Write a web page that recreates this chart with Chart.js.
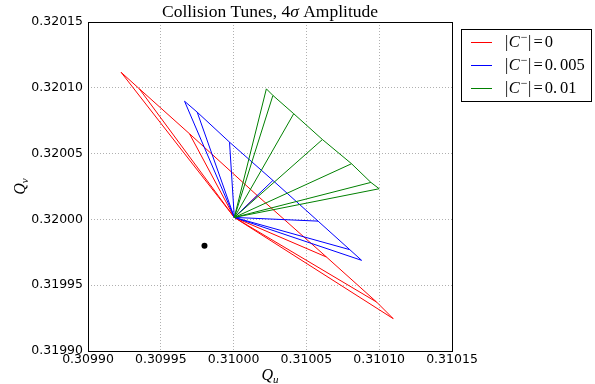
<!DOCTYPE html>
<html>
<head>
<meta charset="utf-8">
<script src="https://cdn.jsdelivr.net/npm/chart.js@4.4.1/dist/chart.umd.min.js"></script>
<style>
html, body { margin: 0; padding: 0; background: #fff; }
#wrap { width: 595px; height: 384px; position: relative; }
</style>
</head>
<body>
<div id="wrap"><canvas id="tuneChart"></canvas></div>
<script>
// tune at zero amplitude (all rays start here)
const center = [0.3100005, 0.3200015];

// tunes at 4 sigma, one point per angle 0,15,30,45,60,75,90 deg
const redQu = [0.3101096, 0.3100982, 0.3100638, 0.3100162, 0.3099697, 0.3099352, 0.3099227];
const redQv = [0.3199246, 0.3199372, 0.3199714, 0.3200182, 0.3200651, 0.3200993, 0.3201118];

const blueQu = [0.3100879, 0.3100798, 0.3100580, 0.3100270, 0.3099972, 0.3099750, 0.3099663];
const blueQv = [0.3199689, 0.3199770, 0.3199987, 0.3200296, 0.3200587, 0.3200815, 0.3200898];

const greenQu = [0.3101000, 0.3100943, 0.3100810, 0.3100610, 0.3100413, 0.3100270, 0.3100225];
const greenQv = [0.3200233, 0.3200281, 0.3200423, 0.3200607, 0.3200803, 0.3200942, 0.3200992];

const dotQu = [0.30998];
const dotQv = [0.31998];

const seriesLabels = ['0', '0.005', '0.01'];
const seriesColors = ['#ff0000', '#0000ff', '#008000'];

const xTicks = [0.30990, 0.30995, 0.31000, 0.31005, 0.31010, 0.31015];
const yTicks = [0.31990, 0.31995, 0.32000, 0.32005, 0.32010, 0.32015];

// edge through the 4 sigma points + a ray from the centre to each one
function footprint(qu, qv) {
    const pts = [];
    for (let i = 0; i < qu.length; i++) pts.push({x: qu[i], y: qv[i]});
    for (let i = 0; i < qu.length; i++) {
        pts.push({x: null, y: null});
        pts.push({x: center[0], y: center[1]});
        pts.push({x: qu[i], y: qv[i]});
    }
    return pts;
}

function lineSet(label, color, qu, qv, order) {
    return {
        label: label,
        data: footprint(qu, qv),
        showLine: true,
        spanGaps: false,
        borderColor: color,
        backgroundColor: color,
        borderWidth: 1,
        pointRadius: 0,
        pointHoverRadius: 0,
        order: order
    };
}

const SERIF = '"Liberation Serif", "DejaVu Serif", serif';

// draw "|C-| = val" with the C in italics and the minus raised
function drawCMinus(ctx, x, y, val) {
    const fs = 16.5;
    ctx.textBaseline = 'middle';
    ctx.textAlign = 'left';
    ctx.fillStyle = '#000';
    ctx.font = fs + 'px ' + SERIF;
    ctx.fillText('|', x, y); x += ctx.measureText('|').width + 0.5;
    ctx.font = 'italic ' + fs + 'px ' + SERIF;
    ctx.fillText('C', x, y); x += ctx.measureText('C').width + 1;
    ctx.font = '12px ' + SERIF;
    ctx.fillText('\u2212', x, y - 5); x += ctx.measureText('\u2212').width + 0.5;
    ctx.font = fs + 'px ' + SERIF;
    ctx.fillText('|', x, y); x += ctx.measureText('|').width + 2;
    ctx.fillText('=', x, y); x += ctx.measureText('=').width + 2;
    const dot = val.indexOf('.');
    if (dot < 0) {
        ctx.fillText(val, x, y);
    } else {
        const head = val.slice(0, dot + 1);
        ctx.fillText(head, x, y); x += ctx.measureText(head).width + 3;
        ctx.fillText(val.slice(dot + 1), x, y);
    }
}

function drawQ(ctx, x, y, sub) {
    ctx.textBaseline = 'alphabetic';
    ctx.textAlign = 'left';
    ctx.fillStyle = '#000';
    ctx.font = 'italic 16px ' + SERIF;
    const w = ctx.measureText('Q').width;
    ctx.font = 'italic 11px ' + SERIF;
    const ws = ctx.measureText(sub).width;
    const x0 = x - (w + ws) / 2;
    ctx.font = 'italic 16px ' + SERIF;
    ctx.fillText('Q', x0, y);
    ctx.font = 'italic 11px ' + SERIF;
    ctx.fillText(sub, x0 + w, y + 3);
}

const decorations = {
    id: 'decorations',
    afterDraw(chart) {
        const ctx = chart.ctx;
        const a = chart.chartArea;
        ctx.save();

        // frame
        const l = Math.round(a.left), t = Math.round(a.top);
        const r = Math.round(a.right), b = Math.round(a.bottom);
        ctx.strokeStyle = '#000';
        ctx.lineWidth = 1;
        ctx.strokeRect(l + 0.5, t + 0.5, r - l, b - t);

        // title
        const cx = (l + r) / 2;
        const tf = '17.5px ' + SERIF, tfi = 'italic 17.5px ' + SERIF;
        ctx.fillStyle = '#000';
        ctx.textBaseline = 'alphabetic';
        ctx.font = tf;
        const p1 = 'Collision Tunes, 4', p3 = ' Amplitude';
        const w1 = ctx.measureText(p1).width, w3 = ctx.measureText(p3).width;
        ctx.font = tfi;
        const w2 = ctx.measureText('\u03c3').width;
        let tx = cx - (w1 + w2 + w3) / 2;
        ctx.font = tf;
        ctx.textAlign = 'left';
        ctx.fillText(p1, tx, 17);
        ctx.font = tfi;
        ctx.fillText('\u03c3', tx + w1, 17);
        ctx.font = tf;
        ctx.fillText(p3, tx + w1 + w2, 17);

        // axis labels
        drawQ(ctx, cx, 380, 'u');
        ctx.save();
        ctx.translate(25, (t + b) / 2);
        ctx.rotate(-Math.PI / 2);
        drawQ(ctx, 0, 0, 'v');
        ctx.restore();

        // legend box
        ctx.fillStyle = '#fff';
        ctx.fillRect(461.5, 29.5, 130, 72);
        ctx.strokeStyle = '#000';
        ctx.strokeRect(461.5, 29.5, 130, 72);
        const rowY = [42, 65, 88];
        for (let i = 0; i < seriesLabels.length; i++) {
            ctx.strokeStyle = seriesColors[i];
            ctx.beginPath();
            ctx.moveTo(471, rowY[i] + 0.5);
            ctx.lineTo(492, rowY[i] + 0.5);
            ctx.stroke();
            drawCMinus(ctx, 505, rowY[i] + 1, seriesLabels[i]);
        }
        ctx.restore();
    }
};

const ctx = document.getElementById('tuneChart').getContext('2d');

const tuneChart = new Chart(ctx, {
    type: 'scatter',
    data: {
        datasets: [
            lineSet('|C-| = 0', seriesColors[0], redQu, redQv, 3),
            lineSet('|C-| = 0.005', seriesColors[1], blueQu, blueQv, 2),
            lineSet('|C-| = 0.01', seriesColors[2], greenQu, greenQv, 1),
            {
                label: 'start',
                data: dotQu.map((u, i) => ({x: u, y: dotQv[i]})),
                pointRadius: 3,
                pointBorderWidth: 0,
                backgroundColor: '#000',
                borderColor: '#000',
                order: 0
            }
        ]
    },
    options: {
        responsive: true,
        maintainAspectRatio: false,
        animation: false,
        events: [],
        layout: { padding: { left: 0, right: 143, top: 22, bottom: 0 } },
        plugins: {
            legend: { display: false },
            tooltip: { enabled: false }
        },
        scales: {
            x: {
                type: 'linear',
                min: xTicks[0],
                max: xTicks[xTicks.length - 1],
                afterBuildTicks: (scale) => { scale.ticks = xTicks.map(v => ({value: v})); },
                afterFit: (scale) => { scale.height = 33; },
                grid: { color: '#b0b0b0', lineWidth: 1, drawTicks: false },
                border: { display: false, dash: [1, 2] },
                ticks: {
                    padding: 1,
                    color: '#000',
                    font: { family: '"DejaVu Sans"', size: 12.5 },
                    maxRotation: 0,
                    callback: (v) => v.toFixed(5)
                }
            },
            y: {
                type: 'linear',
                min: yTicks[0],
                max: yTicks[yTicks.length - 1],
                afterBuildTicks: (scale) => { scale.ticks = yTicks.map(v => ({value: v})); },
                afterFit: (scale) => { scale.width = 88; },
                grid: { color: '#b0b0b0', lineWidth: 1, drawTicks: false },
                border: { display: false, dash: [1, 2] },
                ticks: {
                    padding: 5,
                    color: '#000',
                    font: { family: '"DejaVu Sans"', size: 12.5 },
                    callback: (v) => v.toFixed(5)
                }
            }
        }
    },
    plugins: [decorations]
});
</script>
</body>
</html>
